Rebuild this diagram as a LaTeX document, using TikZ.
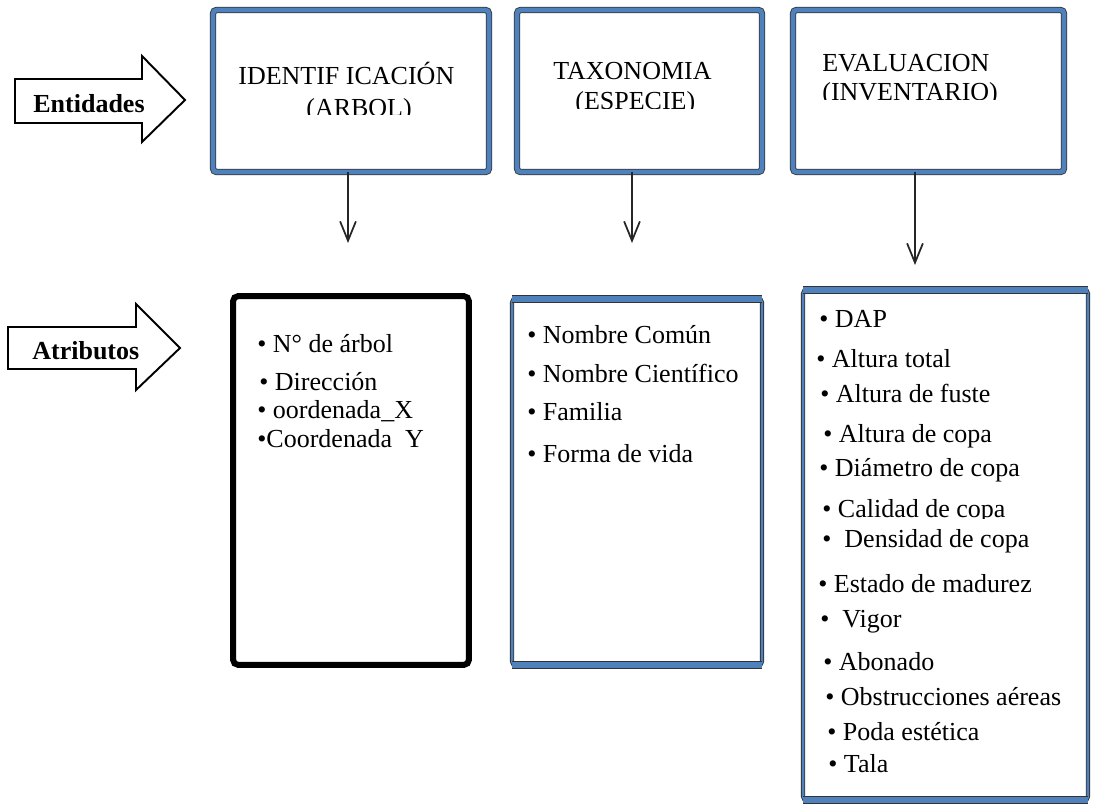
\documentclass[tikz,border=0pt]{standalone}
\usepackage{fontspec}
\setmainfont{Liberation Serif}
\usetikzlibrary{arrows.meta}
\definecolor{frameblue}{HTML}{4F81BD}
\tikzset{
  bluebox/.style={draw=black!80, line width=0.5pt, double=frameblue, double distance=2.6pt,
    rounded corners=2pt, inner sep=0pt, outer sep=0pt},
  thinbox/.style={bluebox, double distance=1.4pt},
  band/.style={draw=black!80, line width=0.5pt, double=frameblue, double distance=3.4pt},
  blackbox/.style={draw=black, line width=3.4pt, rounded corners=3pt, inner sep=0pt, outer sep=0pt},
  down/.style={-{Straight Barb[length=11pt,width=9pt]}, line width=1pt, draw=black!85},
  txt/.style={font=\fontsize{14.8}{17}\selectfont, inner sep=0pt, anchor=base west},
  bigarrow/.style={draw=black, line width=1.1pt, fill=white, line join=miter},
}
\begin{document}
\begin{tikzpicture}[x=0.02cm, y=-0.02cm]
  \useasboundingbox (0,0) rectangle (1093,811);
  % entities
  \node[bluebox, minimum width=5.52cm, minimum height=3.24cm] (ident) at (351,91) {};
  \node[bluebox, minimum width=4.9cm, minimum height=3.24cm] (taxo) at (639.5,91) {};
  \node[bluebox, minimum width=5.42cm, minimum height=3.24cm] (eval) at (928.5,91) {};
  \begin{scope}
    \clip (215,12) rectangle (487,115);
    \node[txt] (identa) at (238,85) {IDENTIF ICACIÓN};
    \node[txt] (identb) at (306,117) {(ARBOL)};
  \end{scope}
  \begin{scope}
    \clip (519,12) rectangle (760,109);
    \node[txt] (taxoa) at (553,80) {TAXONOMIA};
    \node[txt] (taxob) at (575,110) {(ESPECIE)};
  \end{scope}
  \begin{scope}
    \clip (795,12) rectangle (1062,100);
    \node[txt] (evala) at (822,72) {EVALUACION};
    \node[txt] (evalb) at (822,101) {(INVENTARIO)};
  \end{scope}
  % attributes
  \node[blackbox, minimum width=4.72cm, minimum height=7.38cm] (arbol) at (351,480.5) {};
  \node[thinbox, minimum width=5.0cm, minimum height=7.32cm] (especie) at (637,482) {};
  \node[thinbox, minimum width=5.7cm, minimum height=10.2cm] (inv) at (945.5,545) {};
  \draw[band] (especie.north west) -- (especie.north east);
  \draw[band] (especie.south west) -- (especie.south east);
  \draw[band] (inv.north west) -- (inv.north east);
  \draw[band] (inv.south west) -- (inv.south east);
  \node[txt] (a1) at (257,352) {• N° de árbol};
  \node[txt] (a2) at (259,390) {• Dirección};
  \node[txt] (a3) at (257,418) {• oordenada\_X};
  \node[txt] (a4) at (257,447) {•Coordenada~~Y};
  \node[txt] (e1) at (527,343) {• Nombre Común};
  \node[txt] (e2) at (527,382) {• Nombre Científico};
  \node[txt] (e3) at (527,420) {• Familia};
  \node[txt] (e4) at (527,462) {• Forma de vida};
  \node[txt] (i1) at (819,327) {• DAP};
  \node[txt] (i2) at (816,367) {• Altura total};
  \node[txt] (i3) at (820,402) {• Altura de fuste};
  \node[txt] (i4) at (823,442) {• Altura de copa};
  \node[txt] (i5) at (819,476) {• Diámetro de copa};
  \begin{scope}
    \clip (806,290) rectangle (1085,518);
    \node[txt] (i6) at (822,517) {• Calidad de copa};
  \end{scope}
  \node[txt] (i7) at (822,547) {•~~Densidad de copa};
  \node[txt] (i8) at (818,592) {• Estado de madurez};
  \node[txt] (i9) at (820,627) {•~~Vigor};
  \node[txt] (i10) at (823,670) {• Abonado};
  \node[txt] (i11) at (825,705) {• Obstrucciones aéreas};
  \node[txt] (i12) at (827,740) {• Poda estética};
  \node[txt] (i13) at (828,772) {• Tala};
  % arrows down
  \coordinate (t1) at (348,243);
  \coordinate (t2) at (632,243);
  \coordinate (t3) at (915,265);
  \draw[down] (ident.south -| t1) -- (t1);
  \draw[down] (taxo.south -| t2) -- (t2);
  \draw[down] (eval.south -| t3) -- (t3);
  % block arrows
  \draw[bigarrow] (15,79) -- (142,79) -- (142,56) -- (185,100) -- (142,142) -- (142,123) -- (15,123) -- cycle;
  \draw[bigarrow] (8,327) -- (136,327) -- (136,304) -- (180,348) -- (136,390) -- (136,369) -- (8,369) -- cycle;
  \node[txt, font=\fontsize{14.8}{17}\selectfont\bfseries, anchor=base east] (ent) at (145,113) {Entidades};
  \node[txt, font=\fontsize{14.8}{17}\selectfont\bfseries] (atr) at (32,359) {Atributos};
\end{tikzpicture}
\end{document}
